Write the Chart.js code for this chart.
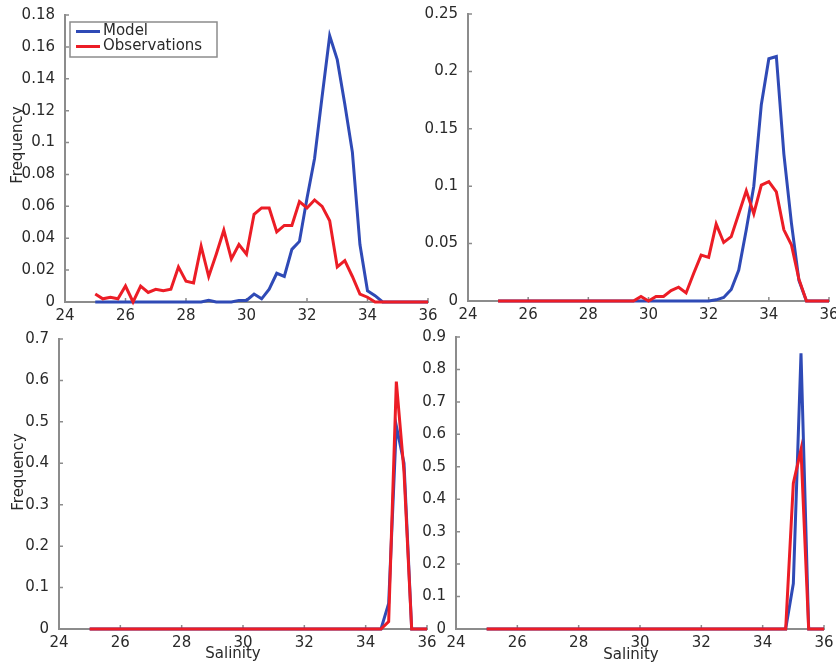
<!DOCTYPE html>
<html>
<head>
<meta charset="utf-8">
<title>Salinity frequency distributions</title>
<script src="https://cdn.jsdelivr.net/npm/chart.js@4.4.0/dist/chart.umd.min.js"></script>
<style>
  html, body { margin: 0; padding: 0; background: #fff; }
  #wrap { position: relative; width: 836px; height: 664px; overflow: hidden; }
  #wrap canvas { position: absolute; left: 0; top: 0; }
</style>
</head>
<body>
<div id="wrap">
  <canvas id="panelA" width="836" height="664"></canvas>
  <canvas id="panelB" width="836" height="664"></canvas>
  <canvas id="panelC" width="836" height="664"></canvas>
  <canvas id="panelD" width="836" height="664"></canvas>
</div>
<script>
// Salinity bin centres (0.25 wide bins)
const salinity = [
  25, 25.25, 25.5, 25.75, 26, 26.25, 26.5, 26.75, 27, 27.25, 27.5, 27.75,
  28, 28.25, 28.5, 28.75, 29, 29.25, 29.5, 29.75, 30, 30.25, 30.5, 30.75,
  31, 31.25, 31.5, 31.75, 32, 32.25, 32.5, 32.75, 33, 33.25, 33.5, 33.75,
  34, 34.25, 34.5, 34.75, 35, 35.25, 35.5, 35.75, 36
];

// Panel A (top left)
const modelA = [
  0, 0, 0, 0, 0, 0, 0, 0, 0, 0, 0, 0,
  0, 0, 0, 0.001, 0, 0, 0, 0.001, 0.001, 0.005, 0.002, 0.008,
  0.018, 0.016, 0.033, 0.038, 0.065, 0.090, 0.129, 0.167, 0.152, 0.124, 0.094, 0.036,
  0.007, 0.004, 0, 0, 0, 0, 0, 0, 0
];
const obsA = [
  0.005, 0.002, 0.003, 0.002, 0.010, 0, 0.010, 0.006, 0.008, 0.007, 0.008, 0.022,
  0.013, 0.012, 0.035, 0.016, 0.030, 0.045, 0.027, 0.036, 0.030, 0.055, 0.059, 0.059,
  0.044, 0.048, 0.048, 0.063, 0.059, 0.064, 0.060, 0.051, 0.022, 0.026, 0.016, 0.005,
  0.003, 0, 0, 0, 0, 0, 0, 0, 0
];

// Panel B (top right)
const modelB = [
  0, 0, 0, 0, 0, 0, 0, 0, 0, 0, 0, 0,
  0, 0, 0, 0, 0, 0, 0, 0, 0, 0, 0, 0,
  0, 0, 0, 0, 0, 0.001, 0.003, 0.010, 0.027, 0.062, 0.100, 0.171,
  0.211, 0.213, 0.128, 0.068, 0.018, 0, 0, 0, 0
];
const obsB = [
  0, 0, 0, 0, 0, 0, 0, 0, 0, 0, 0, 0,
  0, 0, 0, 0, 0, 0, 0, 0.004, 0, 0.004, 0.004, 0.009,
  0.012, 0.007, 0.024, 0.040, 0.038, 0.067, 0.051, 0.056, 0.076, 0.096, 0.076, 0.101,
  0.104, 0.095, 0.062, 0.049, 0.019, 0, 0, 0, 0
];

// Panel C (bottom left)
const modelC = [
  0, 0, 0, 0, 0, 0, 0, 0, 0, 0, 0, 0,
  0, 0, 0, 0, 0, 0, 0, 0, 0, 0, 0, 0,
  0, 0, 0, 0, 0, 0, 0, 0, 0, 0, 0, 0,
  0, 0, 0, 0.062, 0.490, 0.400, 0, 0, 0
];
const obsC = [
  0, 0, 0, 0, 0, 0, 0, 0, 0, 0, 0, 0,
  0, 0, 0, 0, 0, 0, 0, 0, 0, 0, 0, 0,
  0, 0, 0, 0, 0, 0, 0, 0, 0, 0, 0, 0,
  0, 0, 0, 0.018, 0.597, 0.380, 0, 0, 0
];

// Panel D (bottom right)
const modelD = [
  0, 0, 0, 0, 0, 0, 0, 0, 0, 0, 0, 0,
  0, 0, 0, 0, 0, 0, 0, 0, 0, 0, 0, 0,
  0, 0, 0, 0, 0, 0, 0, 0, 0, 0, 0, 0,
  0, 0, 0, 0, 0.140, 0.850, 0, 0, 0
];
const obsD = [
  0, 0, 0, 0, 0, 0, 0, 0, 0, 0, 0, 0,
  0, 0, 0, 0, 0, 0, 0, 0, 0, 0, 0, 0,
  0, 0, 0, 0, 0, 0, 0, 0, 0, 0, 0, 0,
  0, 0, 0, 0, 0.449, 0.553, 0, 0, 0
];

// Tick values
const xTicks = [24, 26, 28, 30, 32, 34, 36];
const yTicksA = [0, 0.02, 0.04, 0.06, 0.08, 0.1, 0.12, 0.14, 0.16, 0.18];
const yTicksB = [0, 0.05, 0.1, 0.15, 0.2, 0.25];
const yTicksC = [0, 0.1, 0.2, 0.3, 0.4, 0.5, 0.6, 0.7];
const yTicksD = [0, 0.1, 0.2, 0.3, 0.4, 0.5, 0.6, 0.7, 0.8, 0.9];

const BLUE = '#2f4ab6';
const RED = '#ec1d26';
const AXIS = '#8c8c8c';
const TEXT = '#2a2a2a';
const FONT = "'DejaVu Sans', sans-serif";

// Small inward tick marks on both axes
const inwardTicks = {
  id: 'inwardTicks',
  beforeDatasetsDraw(chart) {
    const { ctx, chartArea: a, scales: { x, y } } = chart;
    ctx.save();
    ctx.strokeStyle = AXIS;
    ctx.lineWidth = 1.5;
    ctx.beginPath();
    x.ticks.forEach(t => {
      const px = x.getPixelForValue(t.value);
      ctx.moveTo(px, a.bottom);
      ctx.lineTo(px, a.bottom - 4);
    });
    y.ticks.forEach(t => {
      const py = y.getPixelForValue(t.value);
      ctx.moveTo(a.left, py);
      ctx.lineTo(a.left + 4, py);
    });
    ctx.stroke();
    ctx.restore();
  }
};

// Boxed legend in the top-left corner of the plot area
const boxLegend = {
  id: 'boxLegend',
  afterDraw(chart, args, opts) {
    if (!opts.display) return;
    const { ctx, chartArea: a } = chart;
    const x0 = a.left + 5, y0 = a.top + 7;
    const w = 147, h = 35;
    ctx.save();
    ctx.fillStyle = '#fff';
    ctx.fillRect(x0, y0, w, h);
    ctx.strokeStyle = AXIS;
    ctx.lineWidth = 1.5;
    ctx.strokeRect(x0, y0, w, h);
    ctx.font = '15px ' + FONT;
    ctx.textBaseline = 'middle';
    chart.data.datasets.forEach((ds, i) => {
      const yy = y0 + 9.5 + i * 15;
      ctx.strokeStyle = ds.borderColor;
      ctx.lineWidth = 3;
      ctx.beginPath();
      ctx.moveTo(x0 + 6, yy);
      ctx.lineTo(x0 + 30, yy);
      ctx.stroke();
      ctx.fillStyle = TEXT;
      ctx.fillText(ds.label, x0 + 33, yy);
    });
    ctx.restore();
  }
};

// Axis titles placed at fixed spots
const axisTitles = {
  id: 'axisTitles',
  afterDraw(chart, args, opts) {
    const { ctx } = chart;
    ctx.save();
    ctx.font = '15px ' + FONT;
    ctx.fillStyle = TEXT;
    ctx.textAlign = 'center';
    ctx.textBaseline = 'middle';
    if (opts.x) ctx.fillText(opts.x.text, opts.x.cx, opts.x.cy);
    if (opts.y) {
      ctx.translate(opts.y.cx, opts.y.cy);
      ctx.rotate(-Math.PI / 2);
      ctx.fillText(opts.y.text, 0, 0);
    }
    ctx.restore();
  }
};

function makePanel(id, model, obs, yTicks, padding, legend, titles) {
  const pts = arr => salinity.map((s, i) => ({ x: s, y: arr[i] }));
  return new Chart(document.getElementById(id), {
    type: 'line',
    data: {
      datasets: [
        { label: 'Model', data: pts(model), borderColor: BLUE, borderWidth: 3,
          pointRadius: 0, tension: 0, clip: false, order: 1 },
        { label: 'Observations', data: pts(obs), borderColor: RED, borderWidth: 3,
          pointRadius: 0, tension: 0, clip: false, order: 0 }
      ]
    },
    options: {
      responsive: false,
      animation: false,
      layout: { padding },
      plugins: {
        legend: { display: false },
        tooltip: { enabled: false },
        boxLegend: { display: legend },
        axisTitles: titles
      },
      scales: {
        x: {
          type: 'linear',
          min: 24,
          max: 36,
          afterBuildTicks: s => { s.ticks = xTicks.map(v => ({ value: v })); },
          afterFit: s => { s.height = 24; s.paddingLeft = 0; s.paddingRight = 0; },
          grid: { display: false },
          border: { color: AXIS, width: 2 },
          ticks: { font: { family: FONT, size: 15 }, color: TEXT, padding: -3,
                   maxRotation: 0, autoSkip: false, callback: v => String(v) }
        },
        y: {
          min: 0,
          max: yTicks[yTicks.length - 1],
          afterBuildTicks: s => { s.ticks = yTicks.map(v => ({ value: v })); },
          afterFit: s => { s.width = 48; },
          grid: { display: false },
          border: { color: AXIS, width: 2 },
          ticks: { font: { family: FONT, size: 15 }, color: TEXT, padding: 2,
                   callback: v => String(+v.toFixed(3)) }
        }
      }
    },
    plugins: [inwardTicks, boxLegend, axisTitles]
  });
}

makePanel('panelA', modelA, obsA, yTicksA,
  { left: 17, right: 408, top: 15, bottom: 338 }, true,
  { y: { text: 'Frequency', cx: 18, cy: 145 } });
makePanel('panelB', modelB, obsB, yTicksB,
  { left: 420, right: 7, top: 14, bottom: 339 }, false, {});
makePanel('panelC', modelC, obsC, yTicksC,
  { left: 11, right: 409, top: 339, bottom: 11 }, false,
  { y: { text: 'Frequency', cx: 19, cy: 472 }, x: { text: 'Salinity', cx: 233, cy: 654 } });
makePanel('panelD', modelD, obsD, yTicksD,
  { left: 408, right: 12, top: 337, bottom: 11 }, false,
  { x: { text: 'Salinity', cx: 631, cy: 655 } });
</script>
</body>
</html>
